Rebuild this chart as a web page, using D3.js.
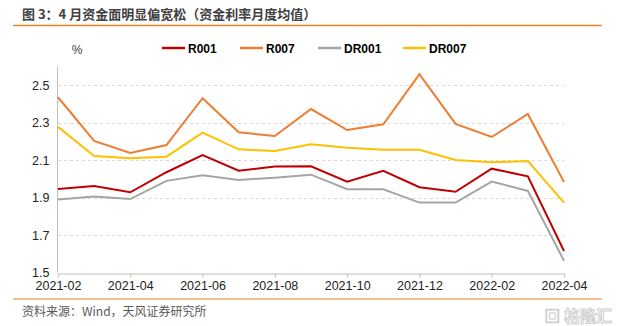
<!DOCTYPE html>
<html>
<head>
<meta charset="utf-8">
<script src="https://cdn.jsdelivr.net/npm/d3@7"></script>
<style>
  body { margin: 0; background: #fff; }
  svg { display: block; font-family: "Liberation Sans", Arial, "Noto Sans CJK SC", sans-serif; }
</style>
</head>
<body>
<div id="chart"></div>
<script>
// months on x axis
var months = ['2021-02','2021-03','2021-04','2021-05','2021-06','2021-07','2021-08','2021-09',
              '2021-10','2021-11','2021-12','2022-01','2022-02','2022-03','2022-04'];
var tickLabels = ['2021-02','2021-04','2021-06','2021-08','2021-10','2021-12','2022-02','2022-04'];
var yTicks = [1.5, 1.7, 1.9, 2.1, 2.3, 2.5];

var seriesNames = ['R001','R007','DR001','DR007'];
var r001  = [1.947,1.963,1.929,2.036,2.128,2.044,2.066,2.068,1.986,2.044,1.956,1.932,2.055,2.014,1.616];
var r007  = [2.436,2.203,2.139,2.181,2.431,2.249,2.229,2.373,2.261,2.292,2.559,2.294,2.224,2.347,1.984];
var dr001 = [1.890,1.906,1.893,1.990,2.020,1.995,2.007,2.023,1.945,1.945,1.874,1.874,1.986,1.936,1.564];
var dr007 = [2.278,2.123,2.110,2.119,2.247,2.158,2.149,2.185,2.167,2.156,2.156,2.101,2.089,2.096,1.874];
var colors = ['#C00000','#ED7D31','#A5A5A5','#FFC000'];

var width = 617, height = 326;
var svg = d3.select('#chart').append('svg').attr('width', width).attr('height', height);

// title + rules
svg.append('text').attr('x', 22).attr('y', 19)
  .style('font-family', '"Noto Sans CJK SC", sans-serif')
  .style('font-size', '13px').style('font-weight', 'bold').attr('fill', '#404040')
  .text('图 3：4 月资金面明显偏宽松（资金利率月度均值）');
svg.append('line').attr('x1', 13).attr('x2', 602).attr('y1', 25.5).attr('y2', 25.5)
  .attr('stroke', '#F08020').attr('stroke-width', 1.5);
svg.append('line').attr('x1', 13).attr('x2', 602).attr('y1', 299).attr('y2', 299)
  .attr('stroke', '#F08020').attr('stroke-width', 1.2);
svg.append('text').attr('x', 22).attr('y', 316)
  .style('font-family', '"Noto Sans CJK SC", sans-serif')
  .style('font-size', '12px').attr('fill', '#595959')
  .text('资料来源：Wind，天风证券研究所');

// watermark
svg.append('text').attr('x', 612).attr('y', 322).attr('text-anchor', 'end')
  .style('font-family', '"Noto Sans CJK SC", sans-serif')
  .style('font-size', '16px').style('font-weight', 'bold')
  .attr('fill', '#fff').attr('stroke', '#d0d0d0').attr('stroke-width', 1)
  .text('▣ 格隆汇');

var x = d3.scalePoint().domain(months).range([58, 564]);
var y = d3.scaleLinear().domain([1.5, 2.6]).range([272.7, 66.5]);

// grid
svg.append('g').selectAll('line').data(yTicks.slice(1)).enter().append('line')
  .attr('x1', 58).attr('x2', 564)
  .attr('y1', function(d){ return Math.round(y(d)) + 0.5; })
  .attr('y2', function(d){ return Math.round(y(d)) + 0.5; })
  .attr('stroke', '#D9D9D9').attr('stroke-dasharray', '3,3');

// y axis
var yAxis = svg.append('g').attr('transform', 'translate(57.5,0)')
  .call(d3.axisLeft(y).tickValues(yTicks).tickFormat(d3.format('.1f')).tickSize(0).tickPadding(8));
yAxis.select('.domain').attr('stroke', '#BFBFBF').attr('d', 'M0,' + y(2.6) + 'V' + y(1.5));
yAxis.selectAll('text').style('font-size', '12.5px').attr('fill', '#222');

// x axis
var xAxis = svg.append('g').attr('transform', 'translate(0,' + (Math.round(y(1.5)) + 0.5) + ')')
  .call(d3.axisBottom(x).tickValues(tickLabels).tickSize(4).tickSizeOuter(0).tickPadding(4));
xAxis.select('.domain').attr('stroke', '#BFBFBF');
xAxis.selectAll('line').attr('stroke', '#BFBFBF');
xAxis.selectAll('text').style('font-size', '12.5px').attr('fill', '#222');

svg.append('text').attr('x', 77).attr('y', 54).attr('text-anchor', 'middle')
  .style('font-size', '12px').attr('fill', '#404040').text('%');

// lines
var allSeries = [r001, r007, dr001, dr007];
var line = d3.line().x(function(d, i){ return x(months[i]); }).y(function(d){ return y(d); });
// draw order: orange, yellow, gray, red on top
[1, 3, 2, 0].forEach(function(k){
  svg.append('path').datum(allSeries[k]).attr('d', line)
    .attr('fill', 'none').attr('stroke', colors[k]).attr('stroke-width', 2)
    .attr('stroke-linejoin', 'miter');
});

// legend
var legendX = [162, 240, 318, 403];
var lg = svg.append('g').selectAll('g').data(seriesNames).enter().append('g')
  .attr('transform', function(d, i){ return 'translate(' + legendX[i] + ',48)'; });
lg.append('line').attr('x1', 0).attr('x2', 23).attr('y1', 0).attr('y2', 0)
  .attr('stroke', function(d, i){ return colors[i]; }).attr('stroke-width', 2.5);
lg.append('text').attr('x', 26).attr('y', 4.5)
  .style('font-size', '12px').style('font-weight', 'bold').attr('fill', '#000')
  .text(function(d){ return d; });
</script>
</body>
</html>
